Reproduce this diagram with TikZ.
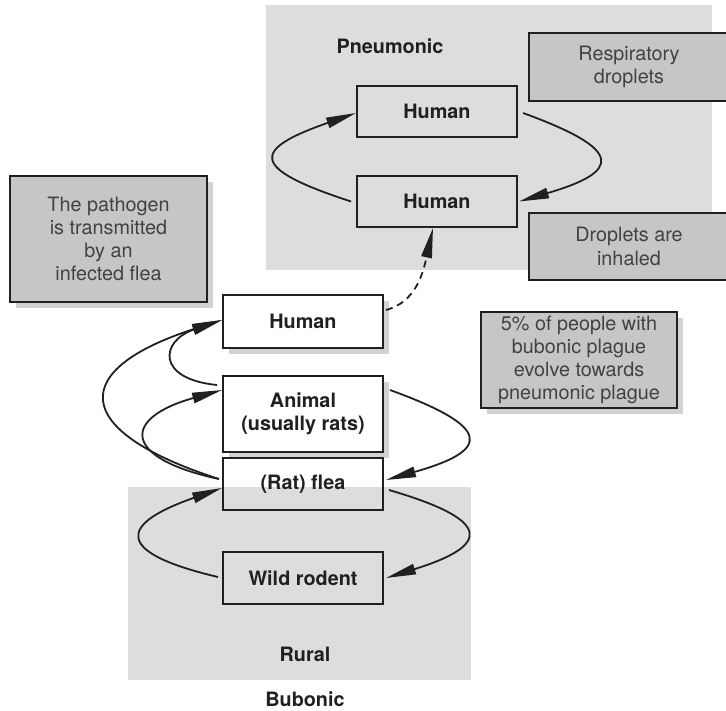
\documentclass[tikz,border=0pt]{standalone}
\usepackage{fontspec}
\setmainfont{TeX Gyre Heros}
\usetikzlibrary{arrows.meta,shadows}
\definecolor{inkgrey}{HTML}{231F20}
\definecolor{zonegrey}{HTML}{DCDDDF}
\definecolor{notegrey}{HTML}{C5C6C8}
\definecolor{shadegrey}{HTML}{D1D2D4}
\definecolor{notetext}{HTML}{424242}
\newcommand{\lbl}{\fontsize{19.8}{23.2}\selectfont}

\begin{document}
\begin{tikzpicture}[
  x=1pt, y=1pt,
  box/.style={draw=inkgrey, line width=2pt, minimum width=160pt,
              align=center, inner sep=3pt, font=\lbl\bfseries, text=inkgrey},
  rbox/.style={box, fill=white,
               drop shadow={shadow xshift=6pt, shadow yshift=-6pt,
                            fill=shadegrey, opacity=1}},
  note/.style={draw=inkgrey, line width=2pt, fill=notegrey, align=center,
               inner sep=2pt, text=notetext, font=\lbl},
  shnote/.style={drop shadow={shadow xshift=6pt, shadow yshift=-6pt,
                              fill=shadegrey, opacity=1}},
  title/.style={font=\lbl\bfseries, text=inkgrey},
  link/.style={line width=1.8pt, draw=inkgrey},
  >={Triangle[length=30pt,width=10.5pt]}]

% background areas
\useasboundingbox (0,0) rectangle (726,-710);
\fill[zonegrey] (266,-5) rectangle (712,-270);
\fill[zonegrey] (128,-487) rectangle (471,-680);

\node[title] (pneulbl) at (390,-46) {Pneumonic};
\node[title] (rurallbl) at (305,-654) {Rural};
\node[title] (bublbl) at (305,-699) {Bubonic};

% hosts
\node[box, minimum height=51pt] (ptop) at (437,-111.5) {Human};
\node[box, minimum height=51pt] (pbot) at (437,-201.5) {Human};
\node[rbox, minimum height=53pt] (human) at (303,-321.5) {Human};
\node[rbox, minimum height=76pt] (animal) at (303,-414) {Animal\\(usually rats)};
\node[box, minimum height=52pt] (flea) at (303,-484) {(Rat) flea};
\node[box, minimum height=52pt] (rodent) at (303,-578) {Wild rodent};

% notes
\node[note, minimum width=200pt, minimum height=68pt] (resp) at (629,-67)
      {Respiratory\\droplets};
\node[note, minimum width=200pt, minimum height=67pt] (inhale) at (629,-246.5)
      {Droplets are\\inhaled};
\node[note, shnote, minimum width=197pt, minimum height=126pt] (pathogen)
      at (108.5,-239) {The pathogen\\is transmitted\\by an\\infected flea};
\node[note, shnote, minimum width=196pt, minimum height=96pt] (pct)
      at (579,-360) {5\% of people with\\bubonic plague\\evolve towards\\pneumonic plague};

% pneumonic loop
\draw[link, ->] ([xshift=5pt,yshift=-1.5pt]ptop.east)
  .. controls +(102,-37) and +(102,30) .. ([xshift=1pt]pbot.east);
\draw[link, ->] ([xshift=-5pt]pbot.west)
  .. controls +(-101,33) and +(-106,-37) .. ([yshift=-1.5pt]ptop.west);
\draw[link, ->, dash pattern=on 7pt off 5pt] ([xshift=2pt,yshift=11.5pt]human.east)
  .. controls +(30,8) and +(-10,-45) .. ([xshift=-4pt]pbot.south);

% bubonic links
\draw[link, ->] ([xshift=-5pt,yshift=-10pt]animal.north west)
  .. controls +(-61,6) and +(-62,-21) .. ([yshift=1.5pt]human.west);
\draw[link, ->] ([xshift=-3pt,yshift=5pt]flea.west)
  .. controls +(-152,49) and +(-152,-49) .. ([yshift=1.5pt]human.west);
\draw[link, ->] ([xshift=-3pt,yshift=5pt]flea.west)
  .. controls +(-98,21) and +(-100,-28) .. ([yshift=24pt]animal.west);
\draw[link, ->] ([xshift=6pt,yshift=24pt]animal.east)
  .. controls +(102,-37) and +(106,30) .. ([xshift=2pt,yshift=4pt]flea.east);
\draw[link, ->] ([xshift=5pt,yshift=-6pt]flea.east)
  .. controls +(103,-30) and +(106,33) .. ([xshift=2pt]rodent.east);
\draw[link, ->] ([xshift=-4pt,yshift=1pt]rodent.west)
  .. controls +(-102,24) and +(-106,-37) .. ([yshift=-4pt]flea.west);
\end{tikzpicture}
\end{document}
